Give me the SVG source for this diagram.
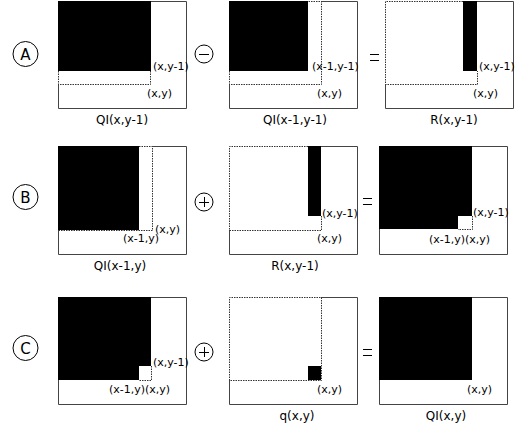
<svg xmlns="http://www.w3.org/2000/svg" width="518" height="432" viewBox="0 0 518 432">
<style>
.s{fill:none;stroke:#444;stroke-width:1}
.d{fill:none;stroke:#333;stroke-width:1;stroke-dasharray:1.5 1}
.b{fill:#000}
.t{font-family:"DejaVu Sans",sans-serif;font-size:11px;fill:#000}
.l{font-family:"DejaVu Sans",sans-serif;font-size:12px;fill:#000;text-anchor:middle}
.c{fill:#fff;stroke:#000;stroke-width:1}
.ct{font-family:"DejaVu Sans",sans-serif;font-size:15px;fill:#000;text-anchor:middle}
.op{fill:none;stroke:#000;stroke-width:1}
</style>
<rect width="518" height="432" fill="#fff"/>
<g id="connectors"/>

<!-- Row A -->
<g id="labelA"><circle class="c" cx="25.5" cy="54" r="12.5"/><text class="ct" x="25.5" y="59.5">A</text></g>
<g id="A1">
<rect class="b" x="58" y="1" width="93" height="70"/>
<path class="s" d="M151,1.5H186.5V108.5H58.5V84"/>
<path class="d" d="M58.5,71V84.5H150.5V71"/>
<text class="t" x="153" y="70">(x,y-1)</text>
<text class="t" x="147" y="97">(x,y)</text>
<text class="l" x="122" y="124">QI(x,y-1)</text>
</g>
<g id="opA1"><circle class="op" cx="204" cy="54" r="9"/><path class="op" d="M199,54.5H209"/></g>
<g id="A2">
<rect class="b" x="229" y="1" width="79" height="70"/>
<path class="s" d="M321,1.5H357.5V108.5H229.5V84"/>
<path class="d" d="M229.5,71V84.5H321.5V1.5H308"/>
<text class="t" x="312" y="70">(x-1,y-1)</text>
<text class="t" x="317" y="97">(x,y)</text>
<text class="l" x="295" y="124">QI(x-1,y-1)</text>
</g>
<g id="eqA"><path class="op" d="M370,54.5H379M370,60.5H379"/></g>
<g id="A3">
<rect class="b" x="463" y="1" width="14" height="70"/>
<path class="s" d="M477,1.5H513.5V108.5H385.5V84"/>
<path class="d" d="M463,1.5H385.5V84.5H477.5V71"/>
<text class="t" x="479" y="70">(x,y-1)</text>
<text class="t" x="473" y="97">(x,y)</text>
<text class="l" x="454" y="124">R(x,y-1)</text>
</g>

<!-- Row B -->
<g id="labelB"><circle class="c" cx="25.5" cy="197" r="12.5"/><text class="ct" x="25.5" y="202.5">B</text></g>
<g id="B1">
<rect class="b" x="58" y="146" width="81" height="84"/>
<path class="s" d="M152,146.5H186.5V254.5H58.5V230"/>
<path class="d" d="M139,146.5H152.5V230.5H58"/>
<text class="t" x="155" y="233">(x,y)</text>
<text class="t" x="123" y="242">(x-1,y)</text>
<text class="l" x="120" y="270">QI(x-1,y)</text>
</g>
<g id="opB1"><circle class="op" cx="204" cy="202" r="9"/><path class="op" d="M199,202.5H209M204.5,197V207"/></g>
<g id="B2">
<rect class="b" x="308" y="146" width="13" height="70"/>
<path class="s" d="M321,146.5H357.5V254.5H229.5V230"/>
<path class="d" d="M308,146.5H229.5V230.5H321.5V216"/>
<text class="t" x="322" y="217">(x,y-1)</text>
<text class="t" x="317" y="242">(x,y)</text>
<text class="l" x="295" y="270">R(x,y-1)</text>
</g>
<g id="eqB"><path class="op" d="M363,198.5H372M363,204.5H372"/></g>
<g id="B3">
<path class="b" d="M379,146H472V216H458V229H379Z"/>
<path class="s" d="M472,146.5H507.5V254.5H379.5V229"/>
<path class="d" d="M472.5,216V229.5H458"/>
<text class="t" x="473" y="216">(x,y-1)</text>
<text class="t" x="429" y="243">(x-1,y)(x,y)</text>
</g>

<!-- Row C -->
<g id="labelC"><circle class="c" cx="25.5" cy="348" r="12.5"/><text class="ct" x="25.5" y="353.5">C</text></g>
<g id="C1">
<path class="b" d="M58,297H151V366H139V380H58Z"/>
<path class="s" d="M151,297.5H186.5V404.5H58.5V380"/>
<path class="d" d="M151.5,366V380.5H139"/>
<text class="t" x="153" y="366">(x,y-1)</text>
<text class="t" x="109" y="393">(x-1,y)(x,y)</text>
</g>
<g id="opC1"><circle class="op" cx="204" cy="352" r="9"/><path class="op" d="M199,352.5H209M204.5,347V357"/></g>
<g id="C2">
<path class="s" d="M321,297.5H357.5V404.5H229.5V380"/>
<path class="d" d="M229.5,380.5V297.5H321.5V380.5H229.5"/>
<rect class="b" x="308" y="366" width="13" height="14"/>
<text class="t" x="317" y="393">(x,y)</text>
<text class="l" x="297" y="420">q(x,y)</text>
</g>
<g id="eqC"><path class="op" d="M363,349.5H372M363,355.5H372"/></g>
<g id="C3">
<rect class="b" x="379" y="297" width="93" height="83"/>
<path class="s" d="M472,297.5H507.5V404.5H379.5V380"/>
<text class="t" x="467" y="393">(x,y)</text>
<text class="l" x="446" y="420">QI(x,y)</text>
</g>
</svg>
